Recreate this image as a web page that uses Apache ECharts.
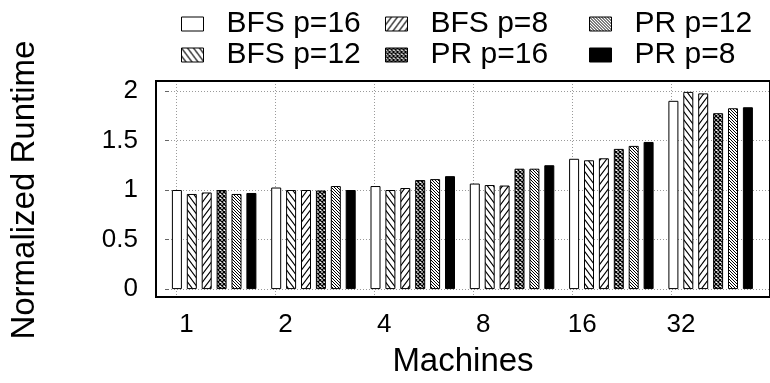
<!DOCTYPE html>
<html>
<head>
<meta charset="utf-8">
<script src="https://cdn.jsdelivr.net/npm/echarts@6/dist/echarts.min.js"></script>
<style>
  html, body { margin: 0; padding: 0; background: #fff; }
  #chart { width: 770px; height: 383px; }
</style>
</head>
<body>
<div id="chart"></div>
<script>
// Machine counts on the x axis
const machines = ['1', '2', '4', '8', '16', '32'];
const yTickLabels = ['0', '0.5', '1', '1.5', '2'];

// Normalized runtime per configuration
const seriesNames = ['BFS p=16', 'BFS p=12', 'BFS p=8', 'PR p=16', 'PR p=12', 'PR p=8'];
const bfs16 = [1.00, 1.025, 1.04, 1.065, 1.315, 1.90];
const bfs12 = [0.96, 1.00, 1.00, 1.05, 1.30, 1.99];
const bfs8  = [0.975, 1.00, 1.02, 1.045, 1.32, 1.975];
const pr16  = [1.00, 0.995, 1.10, 1.215, 1.415, 1.775];
const pr12  = [0.96, 1.04, 1.11, 1.215, 1.445, 1.825];
const pr8   = [0.97, 1.00, 1.14, 1.25, 1.485, 1.835];
const seriesValues = [bfs16, bfs12, bfs8, pr16, pr12, pr8];

const FONT = 'Liberation Sans';

// Hatch tiles: 'back' draws "\" lines, 'fwd' draws "/" lines
function hatch(w, h, kinds, lw) {
  const c = document.createElement('canvas');
  c.width = w; c.height = h;
  const g = c.getContext('2d');
  g.fillStyle = '#fff';
  g.fillRect(0, 0, w, h);
  g.strokeStyle = '#000';
  g.lineWidth = lw;
  g.beginPath();
  const seg = (x0, y0, x1, y1) => {
    for (const dx of [-w, 0, w]) for (const dy of [-h, 0, h]) {
      g.moveTo(x0 + dx, y0 + dy);
      g.lineTo(x1 + dx, y1 + dy);
    }
  };
  if (kinds.indexOf('back') >= 0) seg(0, 0, w, h);
  if (kinds.indexOf('fwd') >= 0) seg(0, h, w, 0);
  g.stroke();
  return { image: c, repeat: 'repeat' };
}

const fills = [
  '#ffffff',
  hatch(6, 8, ['back'], 1.1),
  hatch(6, 8, ['fwd'], 1.1),
  hatch(4, 4, ['back', 'fwd'], 1.3),
  hatch(3, 3, ['back'], 1),
  '#000000'
];

const chart = echarts.init(document.getElementById('chart'), null, { renderer: 'canvas' });

const FRAME_TOP = 81, FRAME_BOTTOM = 383 - 299;
const GROUP_PX = 99.3;
const TICK0_X = 176.5;
const BAR_LEFT = TICK0_X - 12;

const gridLine = { show: true, lineStyle: { color: '#9a9a9a', type: [1, 2], width: 1 } };

const legendCols = [
  { left: 181, data: ['BFS p=16', 'BFS p=12'] },
  { left: 385, data: ['BFS p=8', 'PR p=16'] },
  { left: 589, data: ['PR p=12', 'PR p=8'] }
].map(c => ({
  left: c.left, top: 9, orient: 'vertical', padding: 0, itemGap: 1,
  itemWidth: 22, itemHeight: 14, icon: 'rect', selectedMode: false,
  data: c.data,
  itemStyle: { borderColor: '#000', borderWidth: 1 },
  textStyle: { fontFamily: FONT, fontSize: 30, color: '#000', lineHeight: 30, padding: [0, 0, 0, 18] }
}));

chart.setOption({
  animation: false,
  backgroundColor: '#fff',
  legend: legendCols,
  grid: [
    // frame
    { left: 156, top: FRAME_TOP, right: -10, bottom: FRAME_BOTTOM, show: true,
      borderColor: '#000', borderWidth: 2, backgroundColor: 'transparent', z: 5 },
    // y ticks and horizontal grid lines (0..2)
    { left: 156, top: 91.1, right: -10, bottom: 383 - 289.1 },
    // machine ticks and vertical grid lines
    { left: TICK0_X, top: FRAME_TOP, right: 770 - TICK0_X - GROUP_PX * 6, bottom: FRAME_BOTTOM },
    // bars
    { left: BAR_LEFT, top: FRAME_TOP, right: 770 - BAR_LEFT - GROUP_PX * 6, bottom: FRAME_BOTTOM }
  ],
  xAxis: [
    { gridIndex: 0, type: 'value', min: 0, max: 1,
      axisLine: { show: false }, axisTick: { show: false }, axisLabel: { show: false }, splitLine: { show: false },
      name: 'Machines', nameLocation: 'middle', nameGap: 48,
      nameTextStyle: { fontFamily: FONT, fontSize: 33, color: '#000' } },
    { gridIndex: 1, type: 'value', show: false, min: 0, max: 1 },
    { gridIndex: 2, type: 'value', min: 0, max: 6, interval: 1,
      axisLine: { show: false }, axisTick: { show: false },
      splitLine: gridLine,
      axisLabel: { show: true, showMinLabel: true, showMaxLabel: false, margin: 13,
        fontFamily: FONT, fontSize: 26, color: '#000', padding: [0, 0, 0, 20],
        formatter: v => (machines[v] !== undefined ? machines[v] : '') } },
    { gridIndex: 3, type: 'category', data: machines, show: false }
  ],
  yAxis: [
    { gridIndex: 0, type: 'value', show: false, min: 0, max: 1 },
    { gridIndex: 1, type: 'value', min: 0, max: 2, interval: 0.5,
      axisLine: { show: false },
      axisTick: { show: true, inside: true, length: 4, lineStyle: { color: '#666', width: 1 } },
      splitLine: gridLine,
      axisLabel: { margin: 27, fontFamily: FONT, fontSize: 26, color: '#000',
        formatter: v => yTickLabels[Math.round(v / 0.5)] },
      name: 'Normalized Runtime', nameLocation: 'middle', nameGap: 124,
      nameTextStyle: { fontFamily: FONT, fontSize: 33, color: '#000' } },
    { gridIndex: 2, type: 'value', show: false, min: 0, max: 1 },
    { gridIndex: 3, type: 'value', show: false, min: -0.1, max: 2.1 }
  ],
  series: seriesNames.map((name, i) => ({
    name: name,
    type: 'bar',
    xAxisIndex: 3,
    yAxisIndex: 3,
    data: seriesValues[i],
    barWidth: 10,
    barGap: '49%',
    itemStyle: { color: fills[i], borderColor: '#000', borderWidth: 1 },
    z: 3
  }))
});
</script>
</body>
</html>
